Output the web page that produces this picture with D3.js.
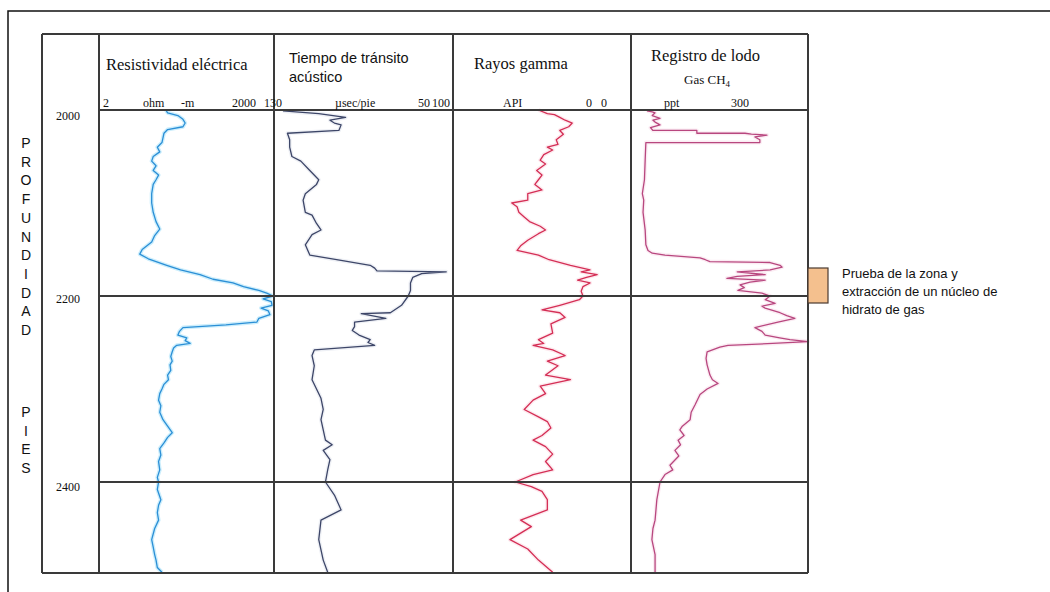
<!DOCTYPE html>
<html><head><meta charset="utf-8">
<script src="https://cdn.jsdelivr.net/npm/d3@7"></script>
<style>
html,body{margin:0;padding:0;background:#fff;}
svg{display:block;}
.serif{font-family:"Liberation Serif","Times New Roman",serif;fill:#111;}
.sans{font-family:"Liberation Sans",Arial,sans-serif;fill:#111;}
</style></head>
<body>
<svg id="chart" width="1050" height="592"></svg>
<script>
// ---------------- DATA ----------------
const depthTicks = [2000, 2200, 2400];
const depthWord1 = ["P","R","O","F","U","N","D","I","D","A","D"];
const depthWord2 = ["P","I","E","S"];

// resistivity (ohm-m) vs depth (ft)
const resDepth = [2000,2003,2006,2010,2014,2018,2021,2025,2030,2035,2040,2045,2050,2055,2060,2065,2070,2075,2080,2090,2100,2110,2120,2128,2135,2142,2150,2155,2160,2167,2172,2177,2182,2186,2190,2194,2197,2200,2203,2206,2210,2213,2216,2220,2224,2228,2231,2234,2238,2242,2245,2248,2251,2253,2256,2260,2265,2270,2274,2280,2285,2290,2295,2300,2305,2312,2318,2325,2333,2340,2347,2352,2358,2364,2371,2378,2387,2395,2400,2408,2419,2425,2433,2441,2450,2462,2470,2478,2484,2492,2497];
const resValue = [28,30,45,55,60,55,30,26,25,24,20,22,17,16,19,17,21,19,17,16,16,17,19,22,18,16,11,10,14,29,50,108,180,396,600,1100,1500,1920,1300,1800,1850,1200,1600,1700,1100,1020,300,55,48,45,64,60,73,43,38,36,34,36,33,34,30,31,26,24,22,21,23,22,25,30,36,30,26,22,23,21,22,20,21,20,23,21,20,21,18,16,17,18,19,20,24];

// acoustic transit time (µsec/pie)
const sonDepth = [2001,2004,2008,2011,2014,2016,2022,2025,2032,2040,2050,2055,2065,2075,2080,2090,2097,2110,2113,2122,2129,2134,2145,2156,2161,2167,2170,2173,2174,2176,2180,2186,2194,2200,2210,2218,2219,2224,2228,2233,2237,2242,2247,2250,2253,2258,2264,2275,2290,2310,2322,2333,2355,2360,2366,2376,2387,2400,2414,2430,2441,2462,2484,2497];
const sonValue = [126,110,98,105,103,100,101,124,123,123,122,118,114,110,111,116,117,116,113,111,109,113,116,114,102,87,85,84,53,64,68,69,69,70,73,78,91,80,94,94,95,92,87,88,85,112,113,112,113,109,108,109,107,104,108,105,106,107,103,100,109,110,108,106];

// gamma ray (API)
const grDepth = [2000,2004,2005,2008,2011,2014,2018,2022,2026,2032,2037,2040,2043,2048,2054,2058,2065,2070,2075,2080,2086,2090,2097,2100,2104,2110,2115,2120,2125,2129,2133,2140,2146,2151,2156,2161,2167,2172,2174,2177,2180,2183,2186,2190,2195,2200,2204,2210,2215,2218,2223,2230,2240,2247,2251,2253,2258,2264,2270,2275,2285,2290,2297,2305,2312,2322,2330,2335,2342,2350,2355,2362,2370,2378,2387,2392,2400,2405,2410,2419,2430,2441,2448,2462,2472,2484,2497];
const grValue = [52,47,43,40,37,33,35,40,38,42,41,47,44,49,51,48,53,50,52,54,50,58,58,67,64,63,60,57,51,48,52,58,62,64,52,46,34,23,28,19,25,30,23,27,28,27,29,40,50,40,37,45,44,52,49,55,44,37,47,41,48,34,51,48,55,60,52,47,45,50,55,48,44,48,44,55,65,56,50,47,47,62,56,68,58,52,44];

// mud log gas CH4 (ppt)
const gasDepth = [2001,2002,2003,2006,2009,2011,2013,2016,2019,2022,2022,2025,2025,2026,2027,2029,2032,2035,2035,2054,2075,2090,2097,2110,2129,2145,2151,2154,2156,2159,2161,2163,2164,2167,2169,2172,2174,2177,2179,2181,2183,2185,2188,2191,2194,2197,2200,2204,2208,2211,2213,2218,2221,2224,2228,2234,2238,2242,2245,2247,2249,2251,2253,2255,2260,2267,2274,2285,2290,2294,2300,2306,2317,2325,2333,2340,2344,2350,2355,2360,2366,2372,2382,2387,2392,2400,2419,2441,2450,2462,2478,2497];
const gasValue = [45,60,68,60,82,62,68,82,55,62,186,186,322,340,384,350,364,364,42,40,38,32,36,34,40,42,48,60,96,195,210,223,393,421,427,393,300,379,300,271,379,336,308,320,302,370,393,379,407,370,379,421,440,463,415,350,370,379,420,449,500,400,274,251,215,212,215,223,230,246,215,195,181,170,167,145,138,150,133,140,124,135,110,118,96,82,73,68,62,59,68,68];

const scaleLabels = [
  {t:"2", x:103}, {t:"ohm", x:143}, {t:"-m", x:181}, {t:"2000", x:232},
  {t:"130", x:264}, {t:"µsec/pie", x:335}, {t:"50", x:418}, {t:"100", x:432},
  {t:"API", x:503}, {t:"0", x:586}, {t:"0", x:601}, {t:"ppt", x:664}, {t:"300", x:731}
];

const legendLines = ["Prueba de la zona y", "extracción de un núcleo de", "hidrato de gas"];

// ---------------- LAYOUT ----------------
const svg = d3.select("#chart");
const tableTop = 34, headerBottom = 110, tableBottom = 573;
const depthLeft = 42, trackEdges = [99, 274, 453, 631, 808];

const y = d3.scaleLinear().domain([2000, 2500]).range([headerBottom, 575]);
const xRes = d3.scaleLog().domain([2, 2000]).range([trackEdges[0], trackEdges[1]]);
const xSon = d3.scaleLinear().domain([130, 50]).range([trackEdges[1], trackEdges[2]]);
const xGr  = d3.scaleLinear().domain([100, 0]).range([trackEdges[2], trackEdges[3]]);
const xGas = d3.scaleLinear().domain([0, 500]).range([trackEdges[3], trackEdges[4]]);

// outer frame
svg.append("rect").attr("x", 8).attr("y", 11).attr("width", 1060).attr("height", 600)
  .attr("fill", "none").attr("stroke", "#111").attr("stroke-width", 1.5);

// curves
const curves = [
  {d: resDepth, v: resValue, x: xRes, c: "#2b8fd6", halo: "#cdeefc"},
  {d: sonDepth, v: sonValue, x: xSon, c: "#3d4668", halo: "#eef0f5"},
  {d: grDepth,  v: grValue,  x: xGr,  c: "#d42e55", halo: "#fde9ee"},
  {d: gasDepth, v: gasValue, x: xGas, c: "#b8477f", halo: "#fbecf3"}
];
curves.forEach(cv => {
  const pts = cv.d.map((dd, i) => [cv.x(cv.v[i]), y(dd)]);
  const line = d3.line();
  svg.append("path").attr("d", line(pts)).attr("fill", "none")
    .attr("stroke", cv.halo).attr("stroke-width", 4).attr("stroke-linejoin", "round");
  svg.append("path").attr("d", line(pts)).attr("fill", "none")
    .attr("stroke", cv.c).attr("stroke-width", 1.3).attr("stroke-linejoin", "round");
});

// grid lines
const g = svg.append("g").attr("stroke", "#3a3a3a").attr("stroke-width", 2);
g.append("line").attr("x1", depthLeft).attr("x2", trackEdges[4]).attr("y1", tableTop).attr("y2", tableTop);
g.append("line").attr("x1", depthLeft).attr("x2", trackEdges[4]).attr("y1", tableBottom).attr("y2", tableBottom);
g.append("line").attr("x1", depthLeft).attr("x2", depthLeft).attr("y1", tableTop).attr("y2", tableBottom);
trackEdges.forEach(xe => g.append("line").attr("x1", xe).attr("x2", xe).attr("y1", tableTop).attr("y2", tableBottom));
depthTicks.forEach(d => g.append("line").attr("x1", trackEdges[0]).attr("x2", trackEdges[4])
  .attr("y1", y(d)).attr("y2", y(d)));

// depth labels
const labelOffset = {2000: 10, 2200: 7, 2400: 9};
depthTicks.forEach(d => svg.append("text").attr("class", "serif").attr("x", 68).attr("y", y(d) + labelOffset[d])
  .attr("text-anchor", "middle").attr("font-size", 12).text(d));

// PROFUNDIDAD PIES
depthWord1.forEach((l, i) => svg.append("text").attr("class", "sans").attr("x", 26).attr("y", 148 + i * 18.7)
  .attr("text-anchor", "middle").attr("font-size", 14).text(l));
depthWord2.forEach((l, i) => svg.append("text").attr("class", "sans").attr("x", 26).attr("y", 417 + i * 18.7)
  .attr("text-anchor", "middle").attr("font-size", 14).text(l));

// titles
svg.append("text").attr("class", "serif").attr("x", 106).attr("y", 70).attr("font-size", 16.5).text("Resistividad eléctrica");
svg.append("text").attr("class", "sans").attr("x", 289).attr("y", 63).attr("font-size", 14.5).text("Tiempo de tránsito");
svg.append("text").attr("class", "sans").attr("x", 289).attr("y", 82).attr("font-size", 14.5).text("acústico");
svg.append("text").attr("class", "serif").attr("x", 474).attr("y", 69).attr("font-size", 16.5).text("Rayos gamma");
svg.append("text").attr("class", "serif").attr("x", 651).attr("y", 61).attr("font-size", 16.5).text("Registro de lodo");
const gas = svg.append("text").attr("class", "serif").attr("x", 684).attr("y", 84).attr("font-size", 13);
gas.append("tspan").text("Gas CH");
gas.append("tspan").attr("font-size", 9).attr("dy", 3).text("4");

// scale labels
scaleLabels.forEach(s => svg.append("text").attr("class", "serif").attr("x", s.x).attr("y", 107)
  .attr("font-size", 12).text(s.t));

// legend
svg.append("rect").attr("x", 808).attr("y", 268).attr("width", 20).attr("height", 35)
  .attr("fill", "#f4c08e").attr("stroke", "#4a3a30").attr("stroke-width", 1.2);
legendLines.forEach((t, i) => svg.append("text").attr("class", "sans").attr("x", 842)
  .attr("y", 278 + i * 18).attr("font-size", 13).text(t));
</script>
</body></html>
